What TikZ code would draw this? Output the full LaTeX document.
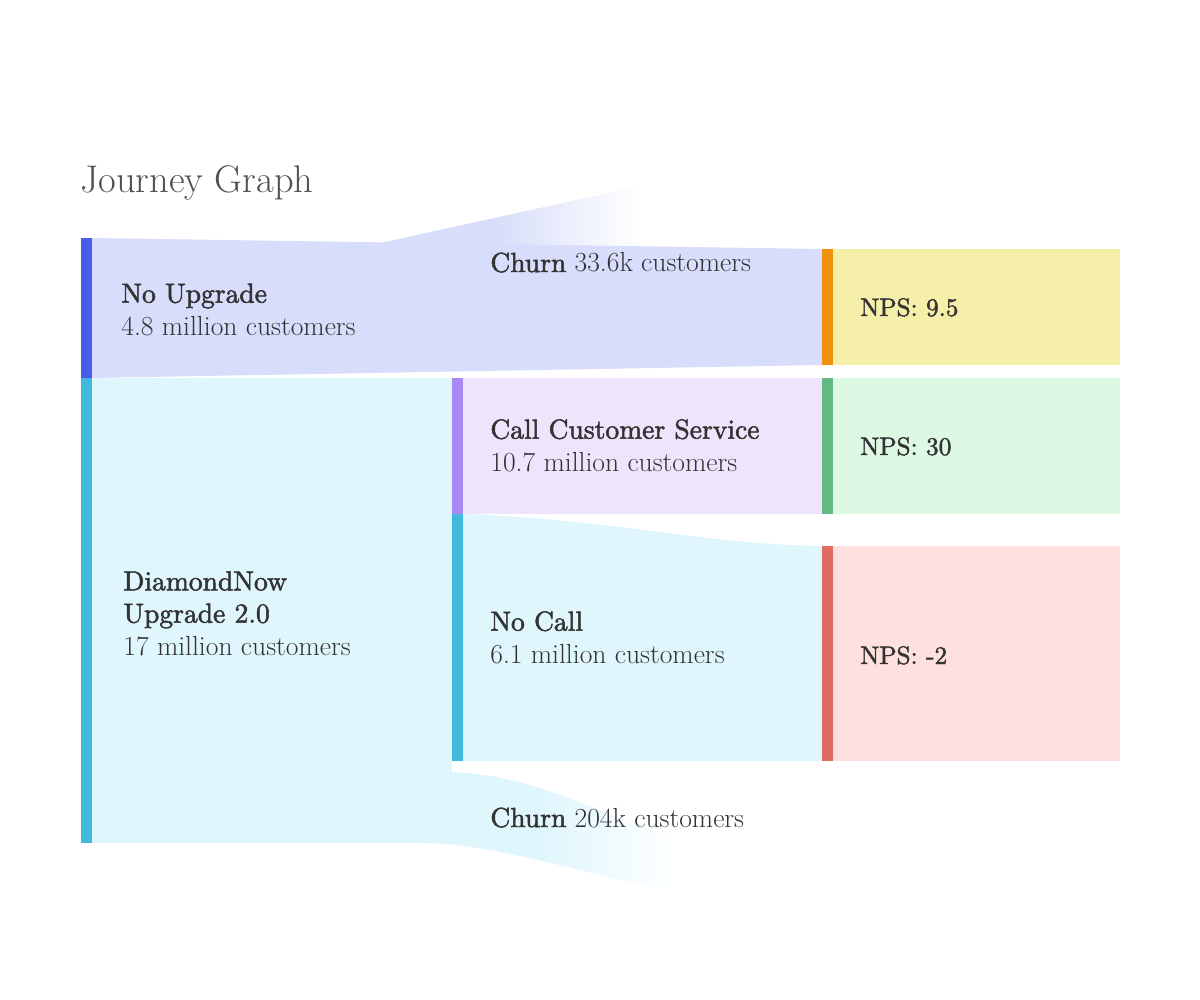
\documentclass[tikz,border=0pt]{standalone}
\usepackage{fontspec}
\usepackage{xcolor}
\usetikzlibrary{positioning}
\newfontface\headfont[FakeBold=1.8]{lmroman10-regular.otf}

\definecolor{nuBar}{HTML}{4A5CE8}
\definecolor{nuBand}{HTML}{D7DDFA}
\definecolor{upBar}{HTML}{3FB9DE}
\definecolor{upBand}{HTML}{E0F6FD}
\definecolor{csBar}{HTML}{A98AF2}
\definecolor{csBand}{HTML}{EEE5FD}
\definecolor{npsABar}{HTML}{F0920C}
\definecolor{npsABox}{HTML}{F6EFA9}
\definecolor{npsBBar}{HTML}{63B883}
\definecolor{npsBBox}{HTML}{DDF8E3}
\definecolor{npsCBar}{HTML}{E06B63}
\definecolor{npsCBox}{HTML}{FEE1DE}
\definecolor{labelText}{HTML}{333333}
\definecolor{titleText}{HTML}{505050}

% tikz maps 25bp..75bp of a shading onto the path
\pgfdeclarehorizontalshading{churnTopFade}{100bp}{color(0bp)=(nuBand); color(25bp)=(nuBand); color(45bp)=(nuBand); color(72bp)=(white); color(100bp)=(white)}
\pgfdeclarehorizontalshading{churnBotFade}{100bp}{color(0bp)=(upBand); color(25bp)=(upBand); color(48bp)=(upBand); color(72bp)=(white); color(100bp)=(white)}

\tikzset{
    label/.style={anchor=base west, inner sep=0pt, align=left, text=labelText,
        font=\fontsize{15.7}{18.4}\selectfont},
    npslabel/.style={anchor=base west, inner sep=0pt, text=labelText,
        font=\fontsize{14.4}{16}\headfont}
}

\begin{document}
\begin{tikzpicture}[x=0.02cm, y=-0.02cm]
                                \useasboundingbox (0, 0) rectangle (1200, 1000);
                                \node[anchor=base west, inner sep=0pt, text=titleText, font=\fontsize{21.9}{26}\selectfont] (title) at (80, 193) {Journey Graph};
                                % churn flows, faded out
                                \shade[shading=churnTopFade] (385, 242) -- (640, 186) -- (655, 186) -- (655, 250) -- (385, 244) -- cycle;
                                \shade[shading=churnBotFade] (420, 843) -- (420, 772) -- (452, 772) .. controls (540, 776) and (590, 812) .. (690, 842) -- (690, 895) .. controls (560, 868) and (490, 843) .. (420, 843) -- cycle;
                                % bands
                                \fill[nuBand] (92, 238) -- (822, 249) -- (822, 365) -- (92, 378) -- cycle;
                                \fill[upBand] (92, 378) rectangle (452, 843);
                                \fill[csBand] (463, 378) rectangle (822, 514);
                                \fill[upBand] (463, 514) .. controls (620, 520) and (700, 544) .. (822, 546) -- (822, 761) -- (463, 761) -- cycle;
                                % bars
                                \fill[nuBar] (81, 238) rectangle (92, 378);
                                \fill[upBar] (81, 378) rectangle (92, 843);
                                \fill[csBar] (452, 378) rectangle (463, 514);
                                \fill[upBar] (452, 514) rectangle (463, 761);
                                % nps boxes
                                \fill[npsABar] (822, 249) rectangle (833, 365);
                                \fill[npsABox] (833, 249) rectangle (1120, 365);
                                \fill[npsBBar] (822, 378) rectangle (833, 514);
                                \fill[npsBBox] (833, 378) rectangle (1120, 514);
                                \fill[npsCBar] (822, 546) rectangle (833, 761);
                                \fill[npsCBox] (833, 546) rectangle (1120, 761);
                                % labels (base = last line)
                                \node[label] (noUpgrade) at (121, 335) {{\headfont No Upgrade}\\4.8 million customers};
                                \node[label] (churnTop) at (490, 272) {{\headfont Churn} 33.6k customers};
                                \node[label] (callService) at (490, 471) {{\headfont Call Customer Service}\\10.7 million customers};
                                \node[label] (diamondNow) at (123, 655) {{\headfont DiamondNow}\\{\headfont Upgrade 2.0}\\17 million customers};
                                \node[label] (noCall) at (490, 663) {{\headfont No Call}\\6.1 million customers};
                                \node[label] (churnBot) at (490, 827) {{\headfont Churn} 204k customers};
                                \node[npslabel] (npsA) at (860, 316) {NPS: 9.5};
                                \node[npslabel] (npsB) at (860, 455) {NPS: 30};
                                \node[npslabel] (npsC) at (860, 664) {NPS: -2};
                            \end{tikzpicture}
\end{document}
